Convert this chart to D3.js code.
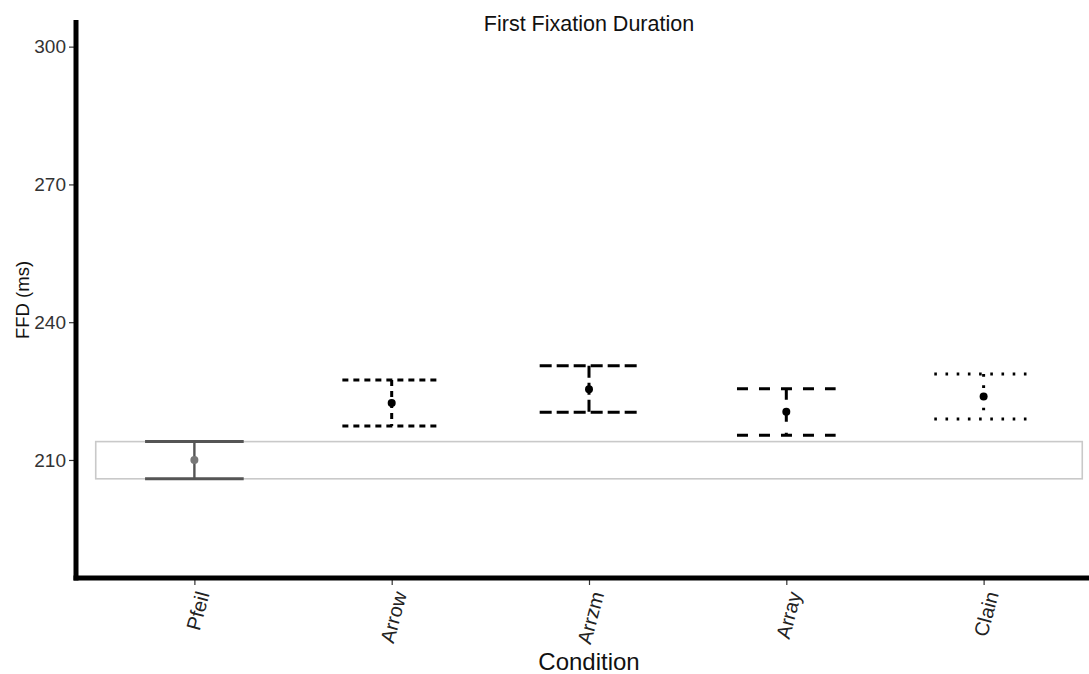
<!DOCTYPE html>
<html>
<head>
<meta charset="utf-8">
<script src="https://cdn.jsdelivr.net/npm/d3@7"></script>
<style>
  html, body { margin: 0; padding: 0; background: #fff; }
  svg { display: block; font-family: "Liberation Sans", Arial, sans-serif; }
</style>
</head>
<body>
<svg id="chart" width="1089" height="674"></svg>
<script>
// ---- data ----
const categories = ["Pfeil", "Arrow", "Arrzm", "Array", "Clain"];
const means  = [210.0, 222.4, 225.4, 220.5, 223.8];
const lower  = [205.9, 217.4, 220.4, 215.4, 218.9];
const upper  = [214.0, 227.4, 230.5, 225.5, 228.7];
const yTicks = [210, 240, 270, 300];
const refBand = [205.9, 214.0];   // reference band (Pfeil interval)
const yDomain = [184.3, 305.8];

// ---- styles (not data) ----
const lineStyles = [
  { color: "#555", point: "#777", dash: null },
  { color: "#000", point: "#000", dash: "6,5" },
  { color: "#000", point: "#000", dash: "12,5" },
  { color: "#000", point: "#000", dash: "11,11" },
  { color: "#000", point: "#000", dash: "2.6,8.6" }
];

const svg = d3.select("#chart");
const panel = { left: 76, right: 1102, top: 20, bottom: 578 };

const x = d3.scalePoint().domain(categories).range([panel.left, panel.right]).padding(0.6);
const y = d3.scaleLinear().domain(yDomain).range([panel.bottom, panel.top]);
const step = x.step();
const capHalf = step * 0.25;

// reference band rectangle
svg.append("rect")
  .attr("x", x(categories[0]) - step * 0.5)
  .attr("y", y(refBand[1]))
  .attr("width", step * (categories.length))
  .attr("height", y(refBand[0]) - y(refBand[1]))
  .attr("fill", "none")
  .attr("stroke", "#c9c9c9")
  .attr("stroke-width", 1.6);

// error bars
const rows = categories.map((c, i) => ({ c, i, m: means[i], lo: lower[i], hi: upper[i] }));
const g = svg.append("g");
rows.forEach(d => {
  const s = lineStyles[d.i];
  const cx = x(d.c);
  const eg = g.append("g")
    .attr("stroke", s.color)
    .attr("stroke-width", 3)
    .attr("fill", "none")
    .attr("stroke-dasharray", s.dash);
  eg.append("line").attr("x1", cx - capHalf).attr("x2", cx + capHalf).attr("y1", y(d.hi)).attr("y2", y(d.hi));
  eg.append("line").attr("x1", cx - capHalf).attr("x2", cx + capHalf).attr("y1", y(d.lo)).attr("y2", y(d.lo));
  eg.append("line").attr("x1", cx).attr("x2", cx).attr("y1", y(d.hi)).attr("y2", y(d.lo))
    .attr("stroke-width", d.i === 0 ? 2.4 : 3);
  g.append("circle").attr("cx", cx).attr("cy", y(d.m)).attr("r", 4).attr("fill", s.point);
});

// y axis
const yAxis = svg.append("g")
  .attr("transform", `translate(${panel.left - 2},0)`)
  .call(d3.axisLeft(y).tickValues(yTicks).tickSize(5).tickPadding(3));
yAxis.select(".domain").remove();
yAxis.selectAll(".tick line").attr("stroke", "#333").attr("stroke-width", 1.2);
yAxis.selectAll(".tick text").attr("fill", "#333").style("font-size", "19px");

// x axis
const xAxis = svg.append("g")
  .attr("transform", `translate(0,${panel.bottom + 2})`)
  .call(d3.axisBottom(x).tickSize(5));
xAxis.select(".domain").remove();
xAxis.selectAll(".tick line").attr("stroke", "#333").attr("stroke-width", 1.2);
xAxis.selectAll(".tick text")
  .attr("fill", "#222")
  .style("font-size", "20px")
  .attr("text-anchor", "end")
  .attr("x", 0).attr("y", 0).attr("dy", "0.35em")
  .attr("transform", "translate(8,12) rotate(-75)");

// thick axis lines
svg.append("line").attr("x1", panel.left).attr("x2", panel.left).attr("y1", panel.top).attr("y2", panel.bottom + 2.5)
  .attr("stroke", "#000").attr("stroke-width", 5);
svg.append("line").attr("x1", panel.left - 2.5).attr("x2", 1089).attr("y1", panel.bottom).attr("y2", panel.bottom)
  .attr("stroke", "#000").attr("stroke-width", 5);

// titles
svg.append("text").attr("x", 589).attr("y", 31).attr("text-anchor", "middle")
  .attr("fill", "#111").style("font-size", "21.5px").text("First Fixation Duration");
svg.append("text").attr("x", 589).attr("y", 670).attr("text-anchor", "middle")
  .attr("fill", "#111").style("font-size", "24px").text("Condition");
svg.append("text").attr("transform", "translate(29,300) rotate(-90)").attr("text-anchor", "middle")
  .attr("fill", "#111").style("font-size", "18.5px").text("FFD (ms)");
</script>
</body>
</html>
